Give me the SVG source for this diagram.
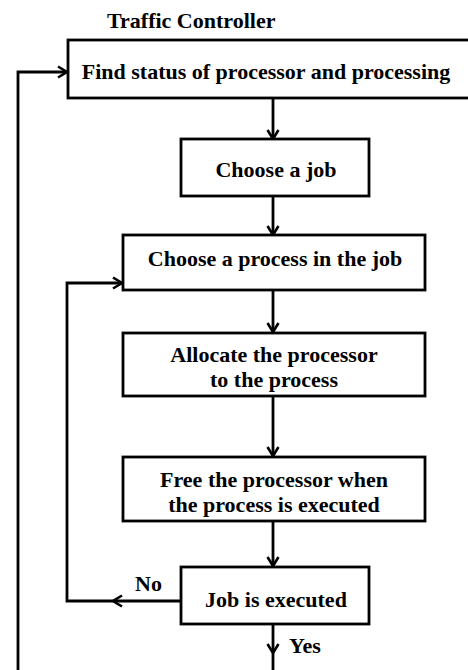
<svg xmlns="http://www.w3.org/2000/svg" width="468" height="670" viewBox="0 0 468 670">
<defs>
<style>
.box{fill:#fff;stroke:#000;stroke-width:2.8}
.ln{fill:none;stroke:#000;stroke-width:2.8}
.t{font-family:"Liberation Serif","Times New Roman",serif;font-size:22px;font-weight:bold;fill:#000;text-anchor:middle}
.lb{font-family:"Liberation Serif","Times New Roman",serif;font-size:22px;font-weight:bold;fill:#000}
</style>
<marker id="arr" markerWidth="14" markerHeight="14" refX="11" refY="7" orient="auto" markerUnits="userSpaceOnUse">
<path d="M2,1.5 L11,7 L2,12.5" fill="none" stroke="#000" stroke-width="2.6"/>
</marker>
</defs>
<rect width="468" height="670" fill="#fff"/>
<text class="lb" x="107" y="28">Traffic Controller</text>
<g id="connectors">
<path class="ln" d="M273,98 L273,139" marker-end="url(#arr)"/>
<path class="ln" d="M273,196 L273,235" marker-end="url(#arr)"/>
<path class="ln" d="M273,290 L273,332" marker-end="url(#arr)"/>
<path class="ln" d="M273,396 L273,456" marker-end="url(#arr)"/>
<path class="ln" d="M273,521 L273,566" marker-end="url(#arr)"/>
<path class="ln" d="M181,601 L113,601" marker-end="url(#arr)"/>
<path class="ln" d="M113,601 L67,601 L67,283 L122,283" marker-end="url(#arr)"/>
<path class="ln" d="M273,624 L273,653" marker-end="url(#arr)"/>
<path class="ln" d="M273,653 L273,670"/>
<path class="ln" d="M18,670 L18,72 L67,72" marker-end="url(#arr)"/>
<text class="lb" x="135" y="591">No</text>
<text class="lb" x="289" y="653">Yes</text>
</g>
<g id="n1">
<rect class="box" x="68" y="40" width="402" height="58"/>
<text class="t" x="266" y="79">Find status of processor and processing</text>
</g>
<g id="n2">
<rect class="box" x="181" y="139" width="188" height="57"/>
<text class="t" x="276" y="177">Choose a job</text>
</g>
<g id="n3">
<rect class="box" x="123" y="235" width="302" height="55"/>
<text class="t" x="275" y="266">Choose a process in the job</text>
</g>
<g id="n4">
<rect class="box" x="123" y="333" width="302" height="63"/>
<text class="t" x="274" y="362">Allocate the processor</text>
<text class="t" x="274" y="387">to the process</text>
</g>
<g id="n5">
<rect class="box" x="123" y="457" width="302" height="64"/>
<text class="t" x="274" y="487">Free the processor when</text>
<text class="t" x="274" y="512">the process is executed</text>
</g>
<g id="n6">
<rect class="box" x="181" y="567" width="188" height="57"/>
<text class="t" x="276" y="607">Job is executed</text>
</g>
</svg>
